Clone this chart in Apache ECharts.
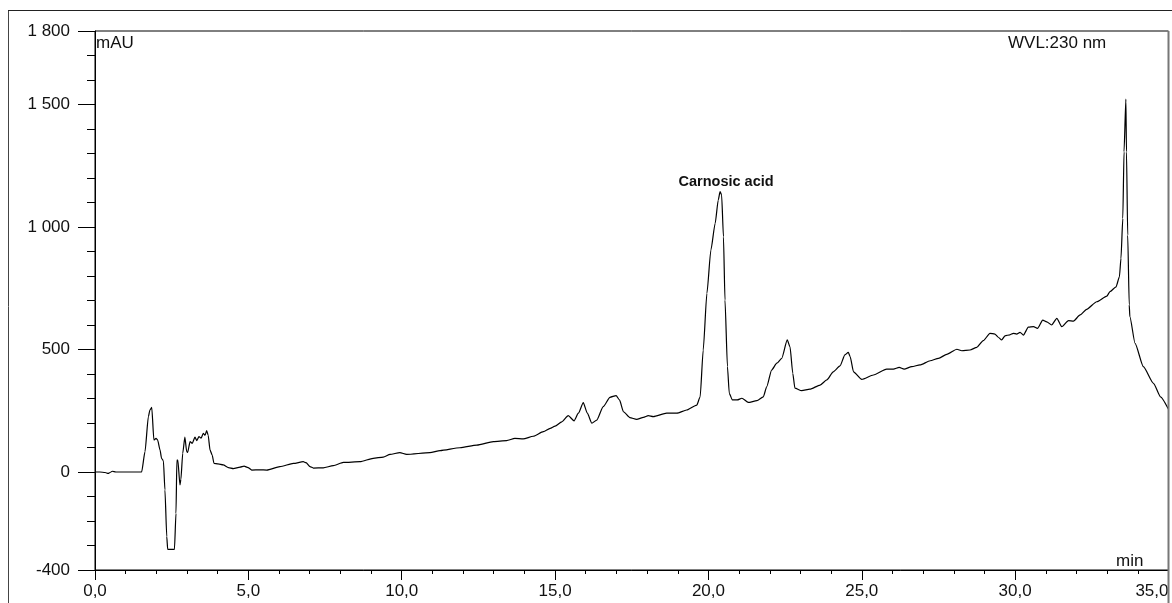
<!DOCTYPE html>
<html>
<head>
<meta charset="utf-8">
<script src="https://cdn.jsdelivr.net/npm/echarts@6/dist/echarts.min.js"></script>
<style>
html,body{margin:0;padding:0;background:#fff;}
#chart{width:1172px;height:603px;}
</style>
</head>
<body>
<div id="chart"></div>
<script>
// Retention time (min)
const timeMin = [
 0, 0.16, 0.33, 0.43, 0.49, 0.56, 0.68, 0.98, 1.30, 1.52,
 1.63, 1.74, 1.79, 1.85, 1.92, 1.99, 2.04, 2.12, 2.17, 2.23,
 2.28, 2.34, 2.37, 2.59, 2.64, 2.67, 2.70, 2.77, 2.80, 2.86,
 2.93, 2.99, 3.02, 3.10, 3.17, 3.26, 3.32, 3.39, 3.46, 3.53,
 3.59, 3.64, 3.69, 3.75, 3.82, 3.88, 4.01, 4.18, 4.35, 4.51,
 4.73, 4.86, 4.99, 5.11, 5.38, 5.60, 6.03, 6.47, 6.79, 6.88,
 7.01, 7.12, 7.44, 7.77, 8.10, 8.64, 9.07, 9.40, 9.62, 9.94,
 10.16, 10.92, 11.25, 11.90, 12.45, 12.99, 13.42, 13.69, 13.96, 14.29,
 14.62, 14.84, 15.00, 15.22, 15.43, 15.62, 15.76, 15.92, 16.05, 16.20,
 16.36, 16.57, 16.79, 16.99, 17.10, 17.23, 17.44, 17.66, 17.88, 18.04,
 18.20, 18.64, 18.97, 19.29, 19.62, 19.73, 19.83, 19.95, 20.08, 20.22,
 20.32, 20.38, 20.43, 20.49, 20.54, 20.62, 20.68, 20.78, 20.94, 21.09,
 21.30, 21.58, 21.79, 21.90, 22.06, 22.23, 22.39, 22.57, 22.66, 22.75,
 22.82, 23.04, 23.31, 23.64, 23.86, 24.07, 24.29, 24.45, 24.56, 24.62,
 24.73, 25.00, 25.38, 25.81, 26.03, 26.22, 26.38, 26.63, 26.90, 27.23,
 27.50, 27.77, 28.10, 28.26, 28.53, 28.75, 28.96, 29.18, 29.34, 29.45,
 29.56, 29.67, 29.83, 29.94, 30.05, 30.16, 30.27, 30.43, 30.60, 30.73,
 30.90, 31.03, 31.19, 31.36, 31.52, 31.74, 31.90, 32.12, 32.33, 32.66,
 32.99, 33.09, 33.29, 33.40, 33.45, 33.51, 33.55, 33.61, 33.63, 33.67,
 33.72, 33.74, 33.91, 34.18, 34.51, 34.74, 35.00
];
// Absorbance (mAU)
const absorbance = [
 0, 0, -2, -6, -2, 3, 0, 0, 0, 0,
 83, 226, 253, 264, 131, 137, 131, 90, 56, 46,
 -73, -264, -316, -316, -169, 49, 49, -53, -30, 76,
 142, 83, 80, 124, 117, 142, 128, 145, 138, 158,
 150, 169, 150, 90, 69, 35, 33, 29, 18, 14,
 20, 24, 18, 8, 9, 8, 22, 35, 42, 38,
 22, 16, 17, 26, 39, 42, 56, 61, 72, 79,
 72, 79, 87, 99, 110, 124, 128, 137, 135, 146,
 165, 178, 187, 205, 230, 209, 240, 283, 240, 199,
 212, 267, 305, 312, 294, 246, 222, 215, 223, 230,
 226, 240, 240, 253, 273, 307, 498, 729, 906, 1015,
 1110, 1144, 1131, 960, 702, 430, 321, 294, 294, 301,
 284, 291, 307, 348, 416, 444, 464, 539, 511, 403,
 342, 332, 338, 355, 376, 409, 433, 478, 488, 471,
 409, 378, 396, 420, 420, 427, 420, 430, 437, 454,
 464, 480, 501, 495, 498, 509, 536, 566, 563, 550,
 539, 556, 560, 566, 563, 570, 559, 591, 593, 586,
 620, 613, 600, 627, 593, 618, 616, 641, 664, 695,
 718, 736, 756, 797, 872, 1035, 1307, 1522, 1307, 967,
 682, 634, 525, 430, 362, 307, 256
];
// Axis ticks
const xTickValues = [0, 5, 10, 15, 20, 25, 30, 35];
const yMajorTicks = [-400, 0, 500, 1000, 1500, 1800];
// Annotation
const peakName = 'Carnosic acid';
const peakTime = 20.38;
const peakValue = 1144;

const seriesData = timeMin.map((t, i) => [t, absorbance[i]]);
const FONT = '"Liberation Sans", Arial, sans-serif';

function fmtY(v) {
  const s = String(Math.abs(v));
  const out = s.length > 3 ? s.slice(0, s.length - 3) + ' ' + s.slice(-3) : s;
  return (v < 0 ? '-' : '') + out;
}

const chart = echarts.init(document.getElementById('chart'), null, {renderer: 'canvas'});
chart.setOption({
  animation: false,
  backgroundColor: '#fff',
  grid: {
    left: 95, right: 3.5, top: 31, bottom: 33,
    show: true, borderColor: '#000', borderWidth: 1,
    containLabel: false, outerBoundsMode: 'none'
  },
  xAxis: {
    type: 'value', min: xTickValues[0], max: xTickValues[xTickValues.length - 1], interval: 5,
    axisLine: {show: true, onZero: false, lineStyle: {color: '#000', width: 1}},
    axisTick: {show: true, length: 10, lineStyle: {color: '#000'}},
    minorTick: {show: true, splitNumber: 5, length: 4, lineStyle: {color: '#000'}},
    splitLine: {show: false},
    axisLabel: {
      color: '#111', fontSize: 17, fontFamily: FONT, margin: 13,
      showMinLabel: true, showMaxLabel: true, alignMaxLabel: 'right',
      formatter: v => v.toFixed(1).replace('.', ',')
    }
  },
  yAxis: [
    {
      type: 'value', min: -400, max: 1800, interval: 100, position: 'left',
      axisLine: {show: true, onZero: false, lineStyle: {color: '#000', width: 1}},
      axisTick: {show: true, length: 8, lineStyle: {color: '#000'}},
      axisLabel: {show: false},
      splitLine: {show: false}
    },
    {
      type: 'value', min: -400, max: 1800, interval: 100, position: 'left',
      axisLine: {show: false},
      axisTick: {show: true, length: 17, customValues: yMajorTicks, lineStyle: {color: '#000'}},
      axisLabel: {
        show: true, customValues: yMajorTicks, color: '#111', fontSize: 17, fontFamily: FONT,
        margin: 25, showMinLabel: true, showMaxLabel: true, formatter: v => fmtY(v)
      },
      splitLine: {show: false}
    }
  ],
  graphic: [
    {type: 'line', shape: {x1: 8.5, y1: 10, x2: 8.5, y2: 603}, style: {stroke: '#444', lineWidth: 1}, silent: true},
    {type: 'line', shape: {x1: 8, y1: 10.5, x2: 1172, y2: 10.5}, style: {stroke: '#222', lineWidth: 1}, silent: true},
    {type: 'line', shape: {x1: 1168.5, y1: 31, x2: 1168.5, y2: 603}, style: {stroke: '#777', lineWidth: 2}, silent: true, z: 10},
    {type: 'text', left: 96, top: 35, style: {text: 'mAU', fill: '#111', font: '17px ' + FONT}, silent: true},
    {type: 'text', left: 1008, top: 35, style: {text: 'WVL:230 nm', fill: '#111', font: '17px ' + FONT}, silent: true},
    {type: 'text', left: 1116, top: 553, style: {text: 'min', fill: '#111', font: '17px ' + FONT}, silent: true}
  ],
  series: [{
    type: 'line',
    xAxisIndex: 0, yAxisIndex: 0,
    data: seriesData,
    showSymbol: false, symbol: 'none',
    smooth: 0.2, smoothMonotone: 'x',
    lineStyle: {color: '#000', width: 1.2},
    markPoint: {
      symbol: 'circle', symbolSize: 0,
      data: [{coord: [peakTime, peakValue], value: peakName}],
      label: {
        show: true, position: 'top', distance: 2, offset: [6, 0],
        formatter: peakName, color: '#111', fontSize: 14.5, fontWeight: 'bold', fontFamily: FONT
      }
    }
  }]
});
</script>
</body>
</html>
